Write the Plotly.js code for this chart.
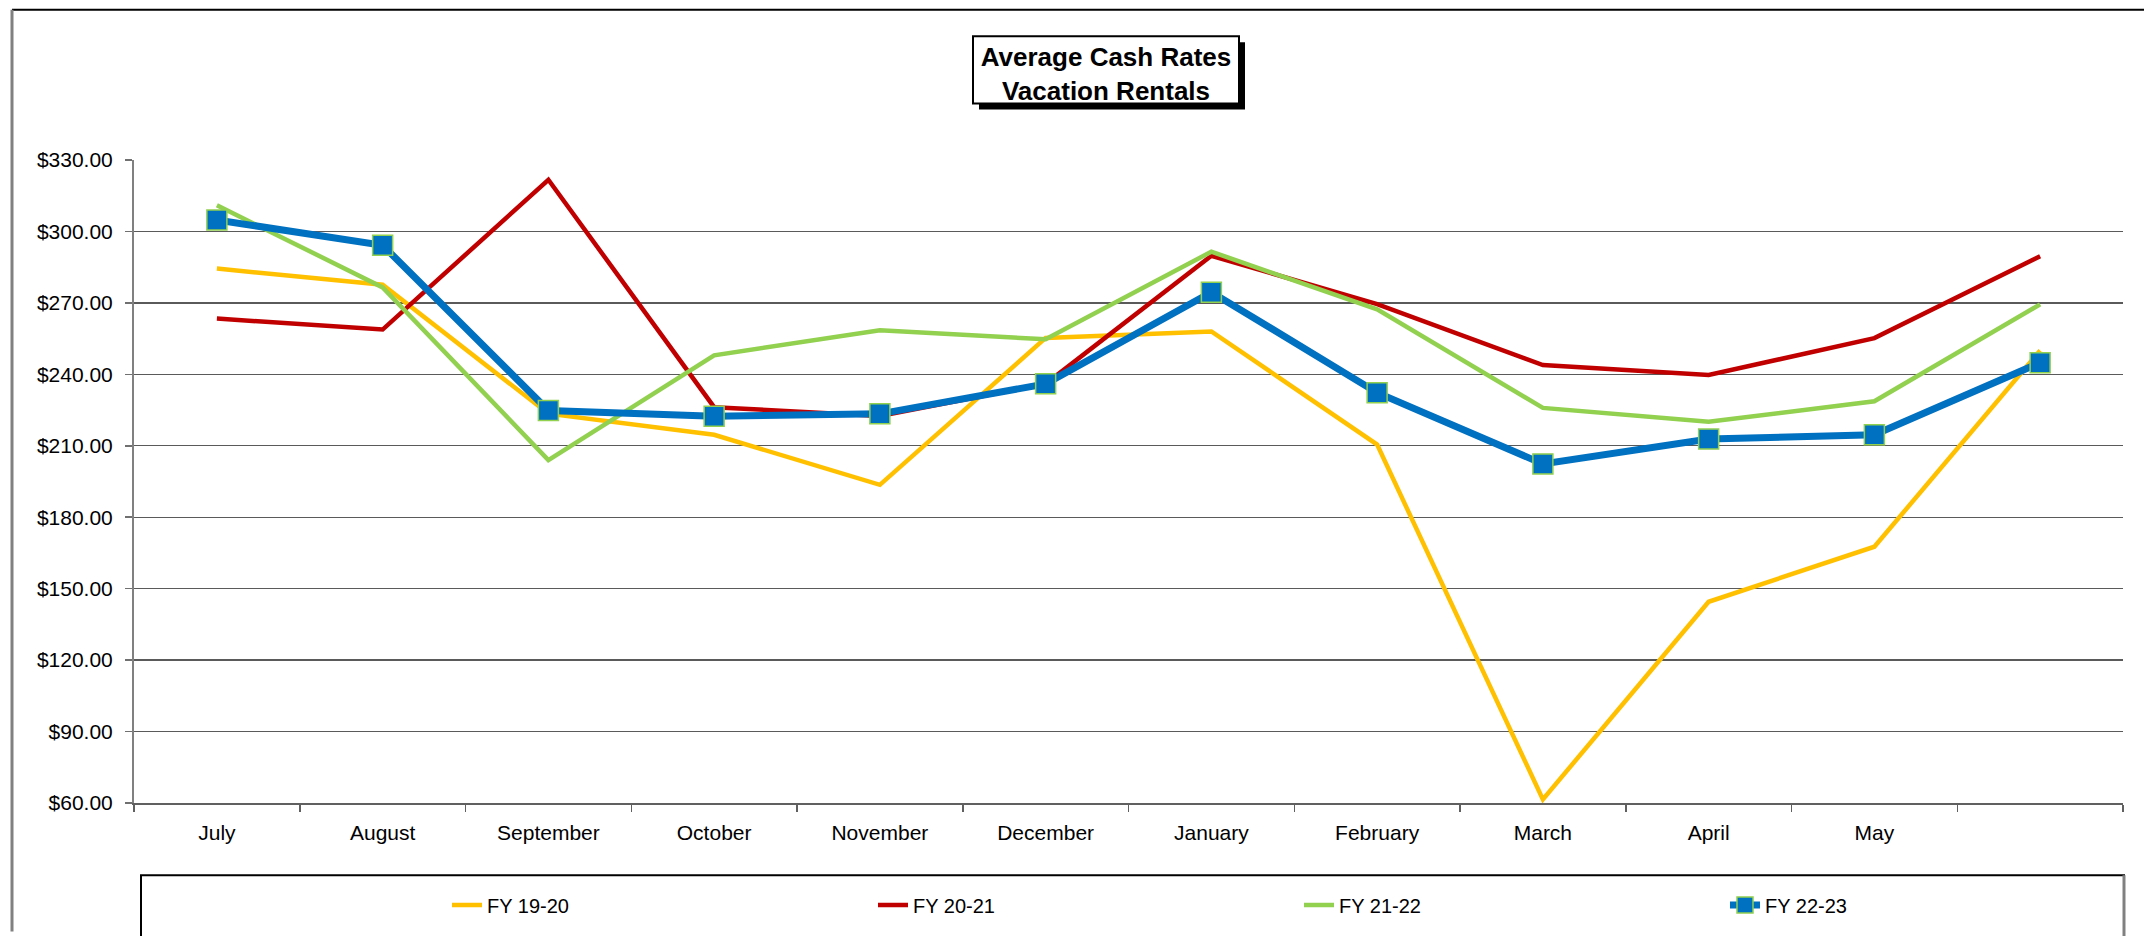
<!DOCTYPE html>
<html>
<head>
<meta charset="utf-8">
<script src="https://cdn.plot.ly/plotly-3.0.1.min.js"></script>
<style>
  html, body { margin: 0; padding: 0; background: #ffffff; overflow: hidden; }
  #chart { width: 2144px; height: 936px; }
</style>
</head>
<body>
<div id="chart"></div>
<script>
// ---- Data ----
const categories = ['July', 'August', 'September', 'October', 'November', 'December',
                    'January', 'February', 'March', 'April', 'May', 'June'];
const tickLabels = ['July', 'August', 'September', 'October', 'November', 'December',
                    'January', 'February', 'March', 'April', 'May', ''];
const seriesNames = ['FY 19-20', 'FY 20-21', 'FY 21-22', 'FY 22-23'];
const fy1920 = [284.4, 277.6, 223.5, 214.6, 193.6, 255.3, 258.0, 210.5, 61.5, 144.5, 167.6, 250.0];
const fy2021 = [263.4, 258.8, 321.7, 226.2, 222.5, 236.0, 289.8, 269.5, 243.9, 239.7, 255.2, 289.6];
const fy2122 = [311.0, 276.5, 204.0, 248.0, 258.5, 254.7, 291.5, 267.3, 225.9, 220.1, 228.7, 269.4];
const fy2223 = [304.8, 294.2, 224.8, 222.4, 223.4, 236.0, 274.5, 232.3, 202.4, 212.8, 214.6, 244.9];
const yTicks = [60, 90, 120, 150, 180, 210, 240, 270, 300, 330];

// ---- Layout geometry (pixels) ----
const W = 2144, H = 936;
const M = { l: 134, r: 21, t: 160, b: 126 };
const PW = W - M.l - M.r, PH = H - M.t - M.b;
const px = x => (x - M.l) / PW;          // pixel x -> paper x
const py = y => (H - M.b - y) / PH;      // pixel y -> paper y

const FONT = 'Arial, "Liberation Sans", Helvetica, sans-serif';

const colors = ['#FFC000', '#C00000', '#92D050', '#0070C0'];
const allSeries = [fy1920, fy2021, fy2122, fy2223];

const traces = allSeries.map((vals, i) => {
  const t = {
    type: 'scatter',
    mode: 'lines',
    name: seriesNames[i],
    x: categories,
    y: vals,
    line: { color: colors[i], width: 4.5 },
    hoverinfo: 'x+y+name'
  };
  if (i === 3) {
    t.mode = 'lines+markers';
    t.line = { color: colors[i], width: 7 };
    t.marker = { symbol: 'square', size: 20, color: colors[i], line: { color: '#92D050', width: 1.5 } };
    t.legendwidth = 100;
  }
  return t;
});

const shapes = [
  // outer chart frame (top + left)
  { type: 'line', xref: 'paper', yref: 'paper', x0: px(12), x1: px(2150), y0: py(8), y1: py(8),
    line: { color: '#000000', width: 2 }, layer: 'below' },
  { type: 'line', xref: 'paper', yref: 'paper', x0: px(12), x1: px(12), y0: py(8), y1: py(940),
    line: { color: '#808080', width: 3 }, layer: 'below' },
  // title box shadow + box
  { type: 'rect', xref: 'paper', yref: 'paper', x0: px(979), x1: px(1245), y0: py(41), y1: py(109),
    fillcolor: '#000000', line: { width: 0 }, layer: 'above' },
  { type: 'rect', xref: 'paper', yref: 'paper', x0: px(973), x1: px(1239), y0: py(35), y1: py(103),
    fillcolor: '#ffffff', line: { color: '#000000', width: 2 }, layer: 'above' },
  // legend box
  { type: 'rect', xref: 'paper', yref: 'paper', x0: px(141), x1: px(2124), y0: py(883), y1: py(960),
    fillcolor: '#ffffff', line: { color: '#000000', width: 2 }, layer: 'above' },
  { type: 'line', xref: 'paper', yref: 'paper', x0: px(2124), x1: px(2124), y0: py(883), y1: py(960),
    line: { color: '#808080', width: 3 }, layer: 'above' }
];

const layout = {
  width: W, height: H,
  margin: M,
  paper_bgcolor: '#ffffff',
  plot_bgcolor: '#ffffff',
  font: { family: FONT, size: 21, color: '#000000' },
  title: {
    text: '<b>Average Cash Rates<br>Vacation Rentals</b>',
    font: { family: FONT, size: 26, color: '#000000' },
    xref: 'container', x: 1106 / W, xanchor: 'center',
    yref: 'container', y: 1 - 66 / H, yanchor: 'middle'
  },
  showlegend: true,
  legend: {
    orientation: 'h',
    x: px(447), xanchor: 'left',
    y: py(913), yanchor: 'middle',
    bgcolor: 'rgba(0,0,0,0)',
    borderwidth: 0,
    font: { family: FONT, size: 20, color: '#000000' },
    entrywidth: 381, entrywidthmode: 'pixels',
    traceorder: 'normal'
  },
  xaxis: {
    type: 'category',
    categoryorder: 'array', categoryarray: categories,
    tickmode: 'array', tickvals: categories, ticktext: tickLabels,
    tickson: 'boundaries',
    ticks: 'outside', ticklen: 7, tickwidth: 1.5, tickcolor: '#606060',
    showline: true, linecolor: '#606060', linewidth: 2,
    showgrid: false, zeroline: false,
    range: [-0.5, 11.5],
    tickfont: { family: FONT, size: 21, color: '#000000' },
    ticklabelstandoff: 10,
    fixedrange: true
  },
  yaxis: {
    range: [60, 330],
    tickmode: 'array', tickvals: yTicks,
    tickformat: '$,.2f',
    ticks: 'outside', ticklen: 7, tickwidth: 1.5, tickcolor: '#707070',
    showline: true, linecolor: '#808080', linewidth: 2,
    showgrid: true, gridcolor: '#5a5a5a', gridwidth: 1.3,
    zeroline: false,
    tickfont: { family: FONT, size: 21, color: '#000000' },
    ticklabelstandoff: 8,
    fixedrange: true
  },
  shapes: shapes
};

Plotly.newPlot('chart', traces, layout, { displayModeBar: false, staticPlot: true });
</script>
</body>
</html>
